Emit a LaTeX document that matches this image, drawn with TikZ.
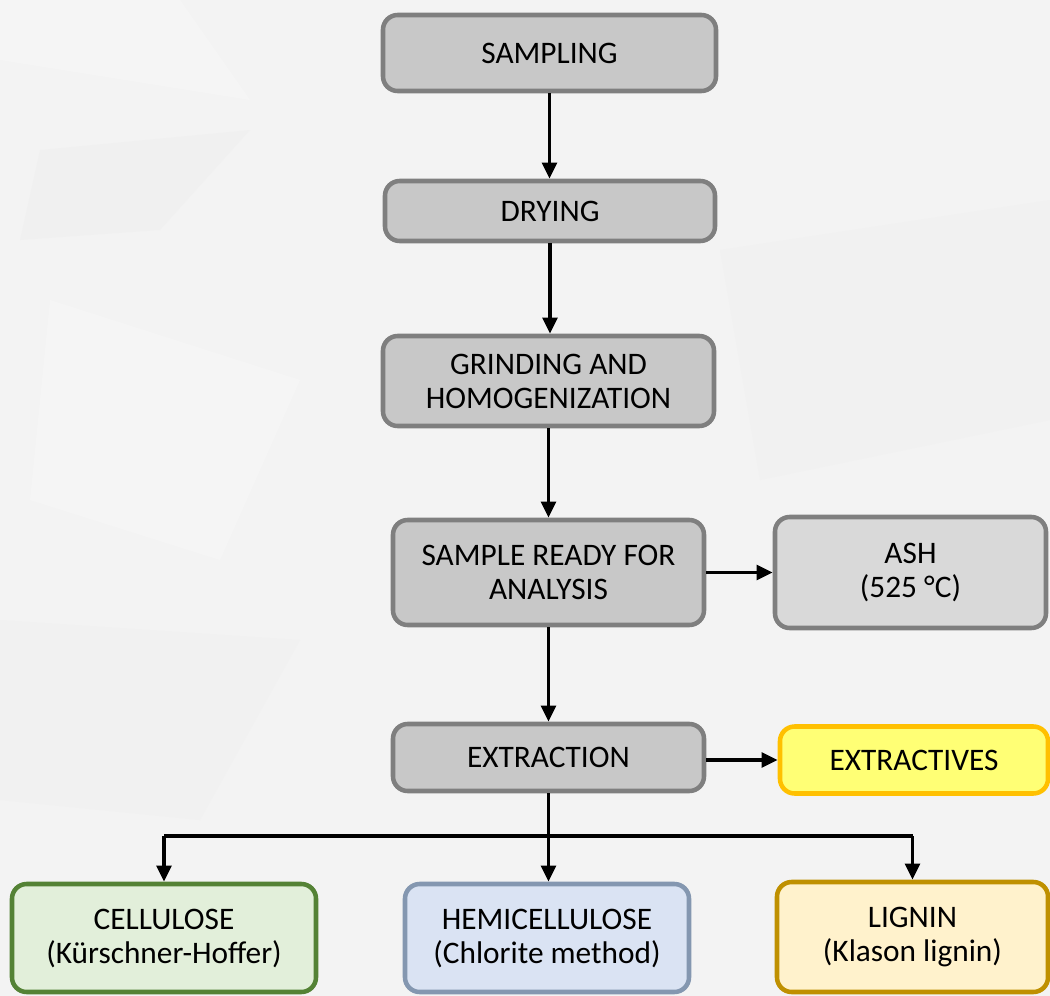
\documentclass[tikz,border=0pt]{standalone}
\usepackage{fontspec}
\setmainfont{Carlito}
\usetikzlibrary{arrows.meta}
\definecolor{bg}{HTML}{F3F3F3}
\definecolor{bgd}{HTML}{EEEEEE}
\definecolor{bgl}{HTML}{F7F7F7}
\definecolor{gfill}{HTML}{C8C8C8}
\definecolor{gfilll}{HTML}{D9D9D9}
\definecolor{gdraw}{HTML}{7F7F7F}
\definecolor{yfill}{HTML}{FFFF75}
\definecolor{ydraw}{HTML}{FFC000}
\definecolor{cfill}{HTML}{E2EFDA}
\definecolor{cdraw}{HTML}{548235}
\definecolor{hfill}{HTML}{DAE3F3}
\definecolor{hdraw}{HTML}{8497B0}
\definecolor{lfill}{HTML}{FFF2CC}
\definecolor{ldraw}{HTML}{BF9000}
\tikzset{
  box/.style={rounded corners=11pt, line width=3.4pt, draw=gdraw, fill=gfill,
    align=center, inner sep=0pt, font=\fontsize{23.5}{25.5}\selectfont},
  conn/.style={line width=2.6pt, -{Triangle[length=12pt,width=11pt]}},
  plain/.style={line width=2.6pt}
}
\begin{document}
\begin{tikzpicture}[x=0.75pt,y=-0.75pt]
\fill[bg] (0,0) rectangle (1050,996);
\useasboundingbox (0,0) rectangle (1050,996);
% faint background texture
\fill[bgd,opacity=0.5] (40,150) -- (250,130) -- (160,230) -- (20,240) -- cycle;
\fill[bgl,opacity=0.6] (0,0) -- (180,0) -- (250,100) -- (0,60) -- cycle;
\fill[bgd,opacity=0.4] (720,250) -- (1050,200) -- (1050,420) -- (760,480) -- cycle;
\fill[bgl,opacity=0.6] (50,300) -- (300,380) -- (220,560) -- (30,500) -- cycle;
\fill[bgd,opacity=0.4] (0,620) -- (300,640) -- (200,820) -- (0,800) -- cycle;

\node[box, minimum width=249.75pt, minimum height=57pt] (s) at (549.5,53) {SAMPLING};
\node[box, minimum width=247.5pt, minimum height=45pt] (d) at (550,211) {DRYING};
\node[box, minimum width=248.25pt, minimum height=67.5pt] (g) at (548.5,381) {GRINDING AND\\HOMOGENIZATION};
\node[box, minimum width=233.25pt, minimum height=78.75pt] (r) at (548.5,572.5) {SAMPLE READY FOR\\ANALYSIS};
\node[box, fill=gfilll, minimum width=203.25pt, minimum height=83.25pt] (a) at (910.5,572.5) {ASH\\(525 °C)};
\node[box, minimum width=233.25pt, minimum height=50.25pt] (e) at (548.5,757.5) {EXTRACTION};
\node[box, fill=yfill, draw=ydraw, minimum width=201pt, minimum height=50.25pt] (x) at (914,760) {EXTRACTIVES};
\node[box, fill=cfill, draw=cdraw, minimum width=228pt, minimum height=81pt] (c) at (164,938) {CELLULOSE\\(Kürschner-Hoffer)};
\node[box, fill=hfill, draw=hdraw, minimum width=213pt, minimum height=81pt] (h) at (547,938) {HEMICELLULOSE\\(Chlorite method)};
\node[box, fill=lfill, draw=ldraw, minimum width=203.25pt, minimum height=82.5pt] (l) at (912.5,937) {LIGNIN\\(Klason lignin)};

\draw[conn] (s.south) -- (s.south |- d.north);
\draw[conn] (d.south) -- (d.south |- g.north);
\draw[conn] (g.south) -- (g.south |- r.north);
\draw[conn] (r.south) -- (r.south |- e.north);
\draw[conn] (r.east) -- (a.west |- r.east);
\draw[conn] (e.east |- x.west) -- (x.west);

\coordinate (br) at (548,836);
\draw[plain] (br -| c.north) -- (br -| l.north);
\draw[conn] (e.south) -- (e.south |- h.north);
\draw[conn] (br -| c.north) -- (c.north);
\draw[conn] (br -| l.north) -- (l.north);
\end{tikzpicture}
\end{document}
